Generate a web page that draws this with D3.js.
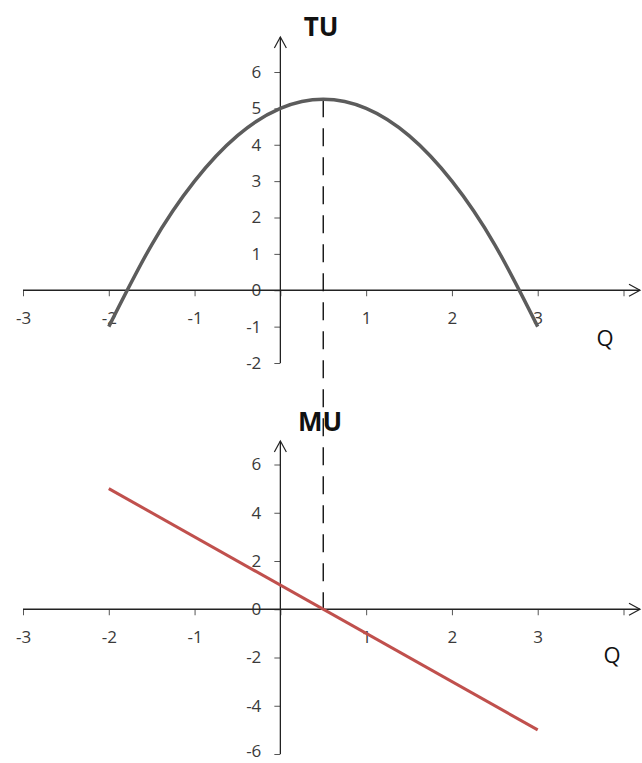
<!DOCTYPE html>
<html>
<head>
<meta charset="utf-8">
<script src="https://cdn.jsdelivr.net/npm/d3@7"></script>
<style>
  body { margin: 0; background: #fff; }
  svg { display: block; }
  text { font-family: "Open Sans", sans-serif; }
</style>
</head>
<body>
<svg width="642" height="763"></svg>
<script>
// data
const qTicks = [-3, -2, -1, 0, 1, 2, 3, 4];
const tuTicks = [-2, -1, 0, 1, 2, 3, 4, 5, 6];
const muTicks = [-6, -4, -2, 0, 2, 4, 6];

const tuQ = [-2, -1.5, -1, -0.5, 0, 0.5, 1, 1.5, 2, 2.5, 3];
const tuValues = [-1, 1.25, 3, 4.25, 5, 5.25, 5, 4.25, 3, 1.25, -1];

const muQ = [-2, 3];
const muValues = [5, -5];

const peakQ = 0.5;

let svg = d3.select("svg");

// scales
let x = d3.scaleLinear().domain([-3, 4]).range([23, 623.5]);
let yTop = d3.scaleLinear().domain([-2, 6]).range([363, 72]);
let yBot = d3.scaleLinear().domain([-6, 6]).range([754, 464.5]);

// plain hyphen for negatives, like the original
let fmt = d => String(d);

// draw one pair of axes with arrows
function drawAxes(y, yTicks, arrowTop) {
    let g = svg.append("g");
    let y0 = y(0), x0 = x(0);
    let yMin = d3.min(yTicks);

    let xAxis = g.append("g")
        .attr("transform", `translate(0,${y0})`)
        .call(d3.axisBottom(x)
            .tickValues(qTicks)
            .tickSize(6)
            .tickFormat(d => (d === 0 || d === 4) ? "" : fmt(d)));
    xAxis.select(".domain").remove();
    xAxis.selectAll("line").attr("stroke", "#555");
    xAxis.selectAll("text")
        .attr("y", 28).attr("dy", "0.35em")
        .attr("font-size", 17).attr("fill", "#3a3a3a")
        .style("font-family", "'Open Sans', sans-serif");

    let yAxis = g.append("g")
        .attr("transform", `translate(${x0},0)`)
        .call(d3.axisLeft(y)
            .tickValues(yTicks)
            .tickSize(6)
            .tickPadding(13)
            .tickFormat(fmt));
    yAxis.select(".domain").remove();
    yAxis.selectAll("line").attr("stroke", "#555");
    yAxis.selectAll("text")
        .attr("font-size", 17).attr("fill", "#3a3a3a")
        .style("font-family", "'Open Sans', sans-serif")
        // keep the lowest label inside the page
        .attr("dy", d => d === yMin && y(yMin) > 740 ? "0.15em" : "0.32em");

    // axis lines
    g.append("line")
        .attr("x1", x(-3)).attr("x2", 640)
        .attr("y1", y0).attr("y2", y0)
        .attr("stroke", "#222").attr("stroke-width", 1.3);
    g.append("line")
        .attr("x1", x0).attr("x2", x0)
        .attr("y1", y(yMin)).attr("y2", arrowTop)
        .attr("stroke", "#222").attr("stroke-width", 1.3);

    // open arrow heads
    g.append("path")
        .attr("d", `M${x0 - 6},${arrowTop + 11} L${x0},${arrowTop} L${x0 + 6},${arrowTop + 11}`)
        .attr("fill", "none").attr("stroke", "#222").attr("stroke-width", 1.2);
    g.append("path")
        .attr("d", `M${629},${y0 - 6} L${640},${y0} L${629},${y0 + 6}`)
        .attr("fill", "none").attr("stroke", "#222").attr("stroke-width", 1.2);
}

drawAxes(yTop, tuTicks, 37);
drawAxes(yBot, muTicks, 441);

// dashed line through the peak of TU down to MU = 0
svg.append("line")
    .attr("x1", x(peakQ)).attr("x2", x(peakQ))
    .attr("y1", yTop(d3.max(tuValues))).attr("y2", yBot(0))
    .attr("stroke", "#111").attr("stroke-width", 1.4)
    .attr("stroke-dasharray", "18,11");

// TU curve
let tuLine = d3.line()
    .x((d, i) => x(tuQ[i]))
    .y(d => yTop(d))
    .curve(d3.curveNatural);

svg.append("path")
    .datum(tuValues)
    .attr("d", tuLine)
    .attr("fill", "none")
    .attr("stroke", "#5c5c5c")
    .attr("stroke-width", 3.5);

// MU line
let muLine = d3.line()
    .x((d, i) => x(muQ[i]))
    .y(d => yBot(d));

svg.append("path")
    .datum(muValues)
    .attr("d", muLine)
    .attr("fill", "none")
    .attr("stroke", "#c0504d")
    .attr("stroke-width", 3);

// titles
svg.append("text")
    .attr("x", 321).attr("y", 36)
    .attr("text-anchor", "middle")
    .attr("font-size", 26).attr("font-weight", "bold").attr("fill", "#111")
    .text("TU");
svg.append("text")
    .attr("x", 320).attr("y", 431)
    .attr("text-anchor", "middle")
    .attr("font-size", 26).attr("font-weight", "bold").attr("fill", "#111")
    .text("MU");
svg.append("text")
    .attr("x", 605).attr("y", 346)
    .attr("text-anchor", "middle")
    .attr("font-size", 22).attr("fill", "#111")
    .text("Q");
svg.append("text")
    .attr("x", 612).attr("y", 663)
    .attr("text-anchor", "middle")
    .attr("font-size", 22).attr("fill", "#111")
    .text("Q");
</script>
</body>
</html>
